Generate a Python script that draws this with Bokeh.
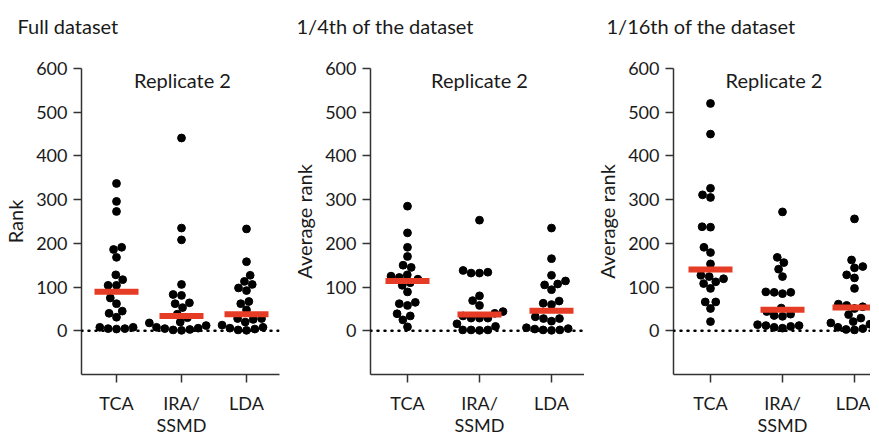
import numpy as np
from bokeh.plotting import figure
from bokeh.layouts import row
from bokeh.models import FixedTicker, Span, Label, Range1d, Title
from bokeh.embed import file_html
from bokeh.resources import INLINE

# ---------------- data ----------------
groups = ["TCA", "IRA/\nSSMD", "LDA"]
panel_titles = ["Full dataset", "1/4th of the dataset", "1/16th of the dataset"]
y_labels = ["Rank", "Average rank", "Average rank"]
subtitle = "Replicate 2"
y_ticks = [0, 100, 200, 300, 400, 500, 600]

full_tca = [337, 296, 273, 191, 186, 168, 128, 117, 104, 104, 75, 62, 45, 40, 31, 8, 5, 4, 5, 8]
full_ira = [441, 235, 208, 106, 83, 81, 64, 62, 53, 38, 30, 20, 18, 12, 8, 5, 3, 1, 2, 6]
full_lda = [233, 158, 127, 113, 106, 98, 92, 67, 62, 48, 28, 28, 26, 20, 13, 8, 6, 4, 2, 1]

quarter_tca = [285, 224, 191, 170, 150, 145, 128, 125, 122, 118, 110, 104, 89, 65, 62, 58, 39, 34, 25, 9]
quarter_ira = [253, 138, 134, 132, 132, 80, 69, 58, 44, 40, 34, 29, 29, 29, 16, 10, 2, 2, 1, 2]
quarter_lda = [235, 165, 127, 114, 107, 105, 94, 68, 63, 60, 32, 28, 28, 22, 7, 4, 2, 1, 2, 5]

sixteenth_tca = [520, 450, 326, 311, 305, 238, 237, 191, 179, 153, 127, 124, 119, 112, 108, 97, 66, 66, 51, 21]
sixteenth_ira = [272, 168, 156, 141, 124, 89, 88, 88, 85, 52, 44, 38, 35, 33, 14, 12, 10, 8, 6, 12]
sixteenth_lda = [256, 162, 147, 144, 128, 121, 97, 61, 58, 55, 51, 37, 29, 21, 18, 15, 8, 5, 3, 2]

panel_data = [
    [full_tca, full_ira, full_lda],
    [quarter_tca, quarter_ira, quarter_lda],
    [sixteenth_tca, sixteenth_ira, sixteenth_lda],
]

# ---------------- style ----------------
FONT = "Lato"
TXT = "#1a1a1a"
AXC = "#333333"
RED = "#E63B25"
DOT = 7.8
Y0, Y1 = -100, 600


def swarm(vals, px_per_unit, d):
    """classic beeswarm: offsets (in px) closest to the centre without overlap"""
    vals = np.asarray(vals, dtype=float)
    order = np.argsort(vals, kind="stable")
    placed = []
    offs = np.zeros(len(vals))
    for i in order:
        y = vals[i] * px_per_unit
        cands = [0.0]
        for xj, yj in placed:
            dy = y - yj
            if abs(dy) < d:
                dx = np.sqrt(d * d - dy * dy)
                cands += [xj + dx, xj - dx]
        cands.sort(key=lambda c: (abs(c), c))
        best = 0.0
        for c in cands:
            if all((c - xj) ** 2 + (y - yj) ** 2 >= d * d - 1e-6 for xj, yj in placed):
                best = c
                break
        placed.append((best, y))
        offs[i] = best
    return offs


def make_panel(idx, fw, bl, br, xpx, tcx_px, title_off):
    fh = 306
    x_start = 1 - tcx_px / xpx
    x_end = x_start + fw / xpx
    ypx = fh / (Y1 - Y0)

    p = figure(frame_width=fw, frame_height=fh, output_backend="svg", toolbar_location=None,
               x_range=Range1d(x_start, x_end), y_range=Range1d(Y0, Y1),
               min_border_left=bl, min_border_right=br, min_border_top=0,
               min_border_bottom=61, title=panel_titles[idx])
    p.outline_line_color = None
    p.grid.grid_line_color = None
    p.background_fill_color = "white"
    p.border_fill_color = "white"

    # spacer between the frame and the panel title
    p.add_layout(Title(text=" ", text_font_size="1px", standoff=17), "above")

    p.title.text_font = FONT
    p.title.text_font_size = "20px"
    p.title.text_font_style = "normal"
    p.title.text_color = TXT
    p.title.align = "left"
    p.title.offset = title_off
    p.title.standoff = 22

    for ax in (p.xaxis[0], p.yaxis[0]):
        ax.axis_line_color = AXC
        ax.axis_line_width = 1.5
        ax.major_tick_line_color = AXC
        ax.major_tick_line_width = 1.5
        ax.major_tick_out = 8
        ax.major_tick_in = 0
        ax.minor_tick_line_color = None
        ax.major_label_text_font = FONT
        ax.major_label_text_font_size = "18px"
        ax.major_label_text_color = TXT

    p.yaxis.ticker = FixedTicker(ticks=y_ticks)
    p.yaxis.major_label_standoff = 6
    p.yaxis.axis_label = y_labels[idx]
    p.yaxis.axis_label_text_font = FONT
    p.yaxis.axis_label_text_font_size = "20px"
    p.yaxis.axis_label_text_font_style = "normal"
    p.yaxis.axis_label_text_color = TXT
    p.yaxis.axis_label_standoff = 6

    p.xaxis.ticker = FixedTicker(ticks=[1, 2, 3])
    p.xaxis.major_label_overrides = {i + 1: g for i, g in enumerate(groups)}
    p.xaxis.major_label_standoff = 9
    p.xaxis.major_label_text_line_height = 1.0

    p.add_layout(Span(location=0, dimension="width", line_color="black",
                      line_width=2.5, line_dash="1 6", line_cap="round"))

    for gi, vals in enumerate(panel_data[idx]):
        offs = swarm(vals, ypx, DOT + 0.6) / xpx
        xs = (gi + 1) + offs
        p.scatter(xs, vals, size=DOT, color="black", line_color="black")
        med = float(np.median(vals))
        p.rect([gi + 1], [med], width=44, height=6, width_units="screen",
               height_units="screen", fill_color=RED, line_color=None)

    p.add_layout(Label(x=x_start + (fw / 2 + 2) / xpx, y=Y1 - 11 / ypx, text=subtitle,
                       text_font=FONT, text_font_size="20px", text_color=TXT,
                       text_align="center", text_baseline="middle"))
    return p


p1 = make_panel(0, 198, 74, 10, 65, 35, -64)
p2 = make_panel(1, 214, 81, 0, 72, 37, -74)
p3 = make_panel(2, 197, 89, 0, 72, 37, -67)

layout = row(p1, p2, p3)
open("out.html", "w").write(file_html(layout, INLINE))
